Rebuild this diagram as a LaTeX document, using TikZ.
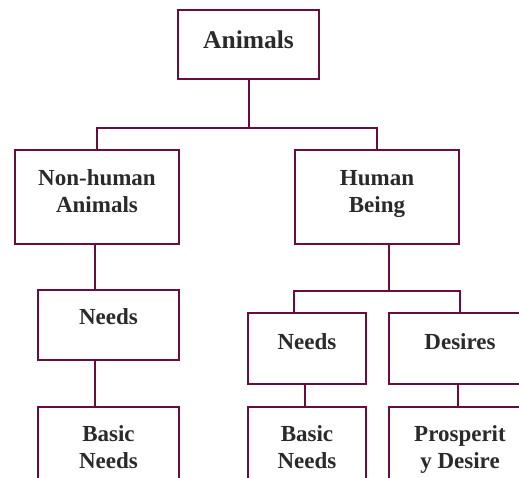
\documentclass[tikz,border=0pt]{standalone}
\usepackage{fontspec}
\setmainfont{Liberation Serif}
\definecolor{wine}{RGB}{108,12,62}
\definecolor{ink}{RGB}{42,42,42}
\begin{document}
\begin{tikzpicture}[x=1pt,y=-1pt,line width=1.8pt,
 box/.style={draw=wine,inner sep=0pt},
 txt/.style={text=ink,align=center,font=\bfseries\fontsize{23}{27}\selectfont},
 link/.style={draw=wine}]
 \useasboundingbox (0,0) rectangle (519,477);
 \node[box,minimum width=141,minimum height=69,
  label={[txt,font=\bfseries\fontsize{25.5}{30}\selectfont,yshift=4.5pt]center:Animals}] (animals) at (248.5,44.5) {};
 \node[box,minimum width=164,minimum height=94,
  label={[txt,yshift=6pt]center:{Non-human\\Animals}}] (nonhuman) at (97,197) {};
 \node[box,minimum width=164,minimum height=94,
  label={[txt,yshift=2.5pt]center:{Human\\Being}}] (human) at (377,197) {};
 \node[box,minimum width=141,minimum height=70,
  label={[txt,yshift=8pt]center:Needs}] (needsL) at (108.5,325) {};
 \node[box,minimum width=141,minimum height=78,
  label={[txt,yshift=-1pt]center:{Basic\\Needs}}] (basicL) at (108.5,446) {};
 \node[box,minimum width=118,minimum height=71,
  label={[txt,yshift=6.5pt]center:Needs}] (needsR) at (307,348.5) {};
 \node[box,minimum width=142,minimum height=71,
  label={[txt,yshift=6.5pt]center:Desires}] (desires) at (460,348.5) {};
 \node[box,minimum width=118,minimum height=78,
  label={[txt,yshift=-1pt]center:{Basic\\Needs}}] (basicR) at (307,446) {};
 \node[box,minimum width=142,minimum height=78,
  label={[txt,yshift=-3pt]center:{Prosperit\\y Desire}}] (prosp) at (460,446) {};
 \draw[link] (animals.south) ++(.5,0) -- ++(0,48) coordinate (top);
 \draw[link] (nonhuman.north) |- (top) -| (human.north);
 \draw[link] (nonhuman.south) ++(-2,0) coordinate (s1) -- (s1 |- needsL.north);
 \draw[link] (needsL.south -| s1) -- (s1 |- basicL.north);
 \draw[link] (human.south) ++(12,0) -- ++(0,46) coordinate (mid);
 \draw[link] (needsR.north) ++(-13,0) |- (mid) -| (desires.north);
 \draw[link] ([xshift=-2pt]needsR.south) -- ([xshift=-2pt]basicR.north);
 \draw[link] ([xshift=-2pt]desires.south) -- ([xshift=-2pt]prosp.north);
\end{tikzpicture}
\end{document}
